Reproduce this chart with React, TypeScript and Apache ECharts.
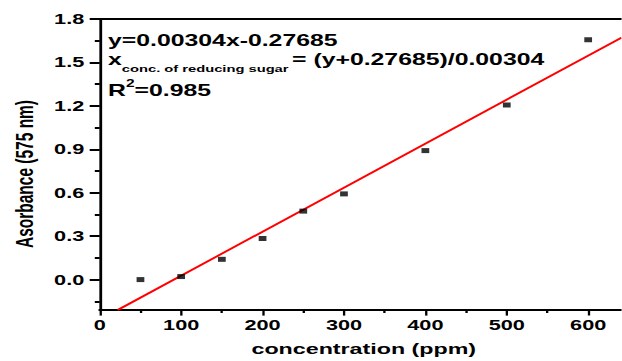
import React, { useEffect, useRef } from "react";
import * as echarts from "echarts";

// ---- data ----
const concentration = [50, 100, 150, 200, 250, 300, 400, 500, 600];
const absorbance = [0.0, 0.021, 0.14, 0.284, 0.473, 0.592, 0.891, 1.206, 1.657];
// fitted line y = 0.00304x - 0.27685, endpoints at the plot edges
const fitX = [22, 641];
const fitY = [-0.21, 1.672];
const yMajorTicks = [0, 0.3, 0.6, 0.9, 1.2, 1.5, 1.8];
const yMinorTicks = [-0.15, 0.15, 0.45, 0.75, 1.05, 1.35, 1.65];
const xMajorTicks = [0, 100, 200, 300, 400, 500, 600];
const xMinorTicks = [50, 150, 250, 350, 450, 550];

const SX = 1.55; // the reference picture is stretched horizontally
const FONT = "'Liberation Sans', Arial, sans-serif";

function txt(text: string, x: number, y: number, size: number) {
  return {
    type: "text",
    x,
    y,
    style: {
      text,
      fontSize: size,
      fontWeight: "bold",
      fontFamily: FONT,
      fill: "#000",
      align: "left",
      verticalAlign: "middle",
      textVerticalAlign: "middle",
    },
  };
}

export default function App() {
  const ref = useRef<HTMLDivElement>(null);
  useEffect(() => {
    const chart = echarts.init(ref.current!, null, { renderer: "svg" });
    const xMin = 0;
    const xMax = 641;
    const yMin = -0.21;
    const yMax = 1.8;
    chart.setOption({
      animation: false,
      backgroundColor: "#fff",
      grid: { left: 60, right: 0, top: 19, bottom: 49.3, containLabel: false },
      xAxis: [
        {
          type: "value",
          min: xMin,
          max: xMax,
          position: "bottom",
          axisLine: { show: true, onZero: false, lineStyle: { color: "#000", width: 2 } },
          axisTick: {
            show: true,
            customValues: xMajorTicks,
            length: 5.6,
            lineStyle: { color: "#000", width: 1.5 },
          },
          axisLabel: {
            customValues: xMajorTicks,
            margin: 8.5,
            fontSize: 14,
            fontWeight: "bold",
            fontFamily: FONT,
            color: "#000",
          },
          splitLine: { show: false },
          name: "concentration (ppm)",
          nameLocation: "middle",
          nameGap: 31,
          nameTextStyle: {
            fontSize: 15,
            fontWeight: "bold",
            fontFamily: FONT,
            color: "#000",
            padding: [0, 0, 0, 4],
          },
        },
        {
          type: "value",
          min: xMin,
          max: xMax,
          position: "bottom",
          axisLine: { show: false, onZero: false },
          axisTick: {
            show: true,
            customValues: xMinorTicks,
            length: 3,
            lineStyle: { color: "#000", width: 1.5 },
          },
          axisLabel: { show: false },
          splitLine: { show: false },
        },
        {
          type: "value",
          min: xMin,
          max: xMax,
          position: "top",
          axisLine: { show: true, onZero: false, lineStyle: { color: "#000", width: 2 } },
          axisTick: { show: false },
          axisLabel: { show: false },
          splitLine: { show: false },
        },
      ],
      yAxis: [
        {
          type: "value",
          min: yMin,
          max: yMax,
          position: "left",
          axisLine: { show: true, onZero: false, lineStyle: { color: "#000", width: 1.8 } },
          axisTick: {
            show: true,
            customValues: yMajorTicks,
            length: 6.5,
            lineStyle: { color: "#000", width: 2 },
          },
          axisLabel: {
            customValues: yMajorTicks,
            formatter: (v: number) => v.toFixed(1),
            margin: 10,
            fontSize: 14,
            fontWeight: "bold",
            fontFamily: FONT,
            color: "#000",
          },
          splitLine: { show: false },
          name: "Asorbance (575 nm)",
          nameLocation: "middle",
          nameGap: 38,
          nameTextStyle: {
            fontSize: 15.5,
            fontWeight: "bold",
            fontFamily: FONT,
            color: "#000",
            padding: [0, 19, 0, 0],
          },
        },
        {
          type: "value",
          min: yMin,
          max: yMax,
          position: "left",
          axisLine: { show: false, onZero: false },
          axisTick: {
            show: true,
            customValues: yMinorTicks,
            length: 3.2,
            lineStyle: { color: "#000", width: 2 },
          },
          axisLabel: { show: false },
          splitLine: { show: false },
        },
      ],
      series: [
        {
          type: "line",
          xAxisIndex: 0,
          yAxisIndex: 0,
          data: fitX.map((x, i) => [x, fitY[i]]),
          showSymbol: false,
          symbol: "none",
          lineStyle: { color: "#ff0000", width: 1.7 },
          z: 2,
        },
        {
          type: "scatter",
          xAxisIndex: 0,
          yAxisIndex: 0,
          data: concentration.map((c, i) => [c, absorbance[i]]),
          symbol: "rect",
          symbolSize: [5, 5],
          itemStyle: { color: "#000" },
          z: 3,
        },
      ],
      graphic: [
        txt("y=0.00304x-0.27685", 69.7, 40.4, 16),
        txt("x", 69.7, 59.2, 16),
        txt("conc. of reducing sugar", 78.6, 69.2, 9.5),
        txt("= (y+0.27685)/0.00304", 188.4, 59.5, 16),
        txt("R", 69.7, 90.4, 16),
        txt("2", 81.3, 84, 10),
        txt("=0.985", 86.8, 90.4, 16),
      ],
    });
    return () => chart.dispose();
  }, []);
  return (
    <div
      style={{
        position: "fixed",
        left: 0,
        top: 0,
        width: 622,
        height: 361,
        overflow: "hidden",
        background: "#fff",
      }}
    >
      <div
        ref={ref}
        style={{
          width: 622 / SX,
          height: 361,
          transform: `scaleX(${SX})`,
          transformOrigin: "0 0",
        }}
      />
    </div>
  );
}
